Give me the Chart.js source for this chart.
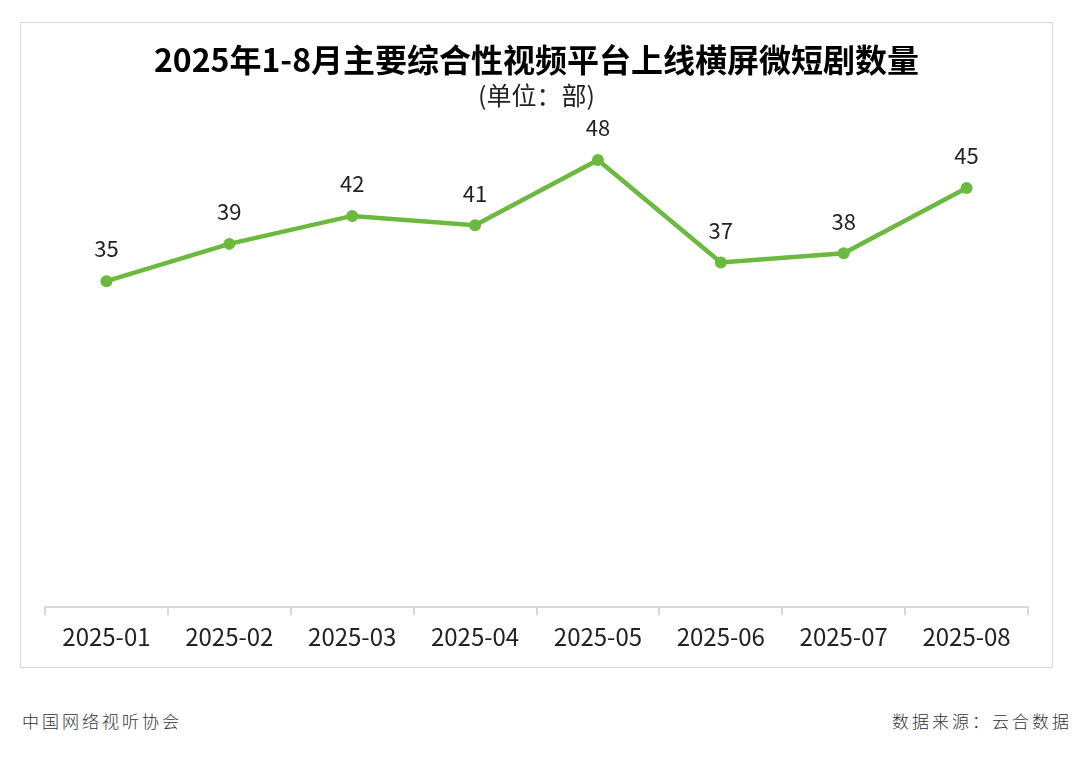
<!DOCTYPE html>
<html lang="zh">
<head>
<meta charset="utf-8">
<script src="https://cdn.jsdelivr.net/npm/chart.js@4"></script>
<style>
  html, body { margin: 0; padding: 0; background: #fff; }
  body { width: 1080px; height: 760px; position: relative; overflow: hidden; font-family: "Noto Sans CJK SC", "Noto Sans", sans-serif; }
  #box { position: absolute; left: 20px; top: 22px; width: 1031px; height: 644px; border: 1px solid #d9d9d9; }
  #box canvas { display: block; }
  .foot { position: absolute; top: 708px; font-size: 17px; color: #333; letter-spacing: 3px; font-weight: 300; }
  #foot-left { left: 22px; }
  #foot-right { right: 8px; }
</style>
</head>
<body>
<div id="box"><canvas id="chart" width="1031" height="644"></canvas></div>
<div class="foot" id="foot-left">中国网络视听协会</div>
<div class="foot" id="foot-right">数据来源：云合数据</div>
<script>
"use strict";

// 数据
const MONTHS = ["2025-01", "2025-02", "2025-03", "2025-04", "2025-05", "2025-06", "2025-07", "2025-08"];
const COUNTS = [35, 39, 42, 41, 48, 37, 38, 45];

const TITLE = "2025年1-8月主要综合性视频平台上线横屏微短剧数量";
const SUBTITLE = "(单位：部)";

const LINE_COLOR = "#6bb93f";
const FONT = "'Noto Sans CJK SC', 'Noto Sans', sans-serif";

// 数据标签（点的上方）
const pointLabels = {
  id: "pointLabels",
  afterDatasetsDraw(chart) {
    const ctx = chart.ctx;
    const meta = chart.getDatasetMeta(0);
    ctx.save();
    ctx.font = "22px " + FONT;
    ctx.fillStyle = "#222";
    ctx.textAlign = "center";
    ctx.textBaseline = "middle";
    meta.data.forEach((pt, i) => {
      ctx.fillText(String(COUNTS[i]), pt.x, pt.y - 32);
    });
    ctx.restore();
  },
};

new Chart(document.getElementById("chart").getContext("2d"), {
  type: "line",
  data: {
    labels: MONTHS,
    datasets: [
      {
        data: COUNTS,
        borderColor: LINE_COLOR,
        backgroundColor: LINE_COLOR,
        borderWidth: 4.5,
        pointRadius: 6,
        pointBorderWidth: 0,
        pointBackgroundColor: LINE_COLOR,
        tension: 0,
        clip: false,
      },
    ],
  },
  options: {
    responsive: false,
    animation: false,
    layout: { padding: { left: 24, right: 24, top: 0, bottom: 9 } },
    scales: {
      x: {
        offset: true,
        grid: {
          offset: true,
          drawOnChartArea: false,
          drawTicks: true,
          tickLength: 8,
          color: "#d9d9d9",
          lineWidth: 2,
        },
        border: { display: true, color: "#d9d9d9", width: 2 },
        ticks: {
          color: "#222",
          padding: 7,
          font: { family: FONT, size: 24 },
          maxRotation: 0,
        },
      },
      y: {
        display: false,
        min: 0,
        max: 50,
      },
    },
    plugins: {
      legend: { display: false },
      tooltip: { enabled: false },
      title: {
        display: true,
        text: TITLE,
        color: "#000",
        font: { family: FONT, size: 32, weight: "bold" },
        padding: { top: 18, bottom: 0 },
      },
      subtitle: {
        display: true,
        text: SUBTITLE,
        color: "#222",
        font: { family: FONT, size: 25 },
        padding: { top: 1, bottom: 31 },
      },
    },
  },
  plugins: [pointLabels],
});
</script>
</body>
</html>
